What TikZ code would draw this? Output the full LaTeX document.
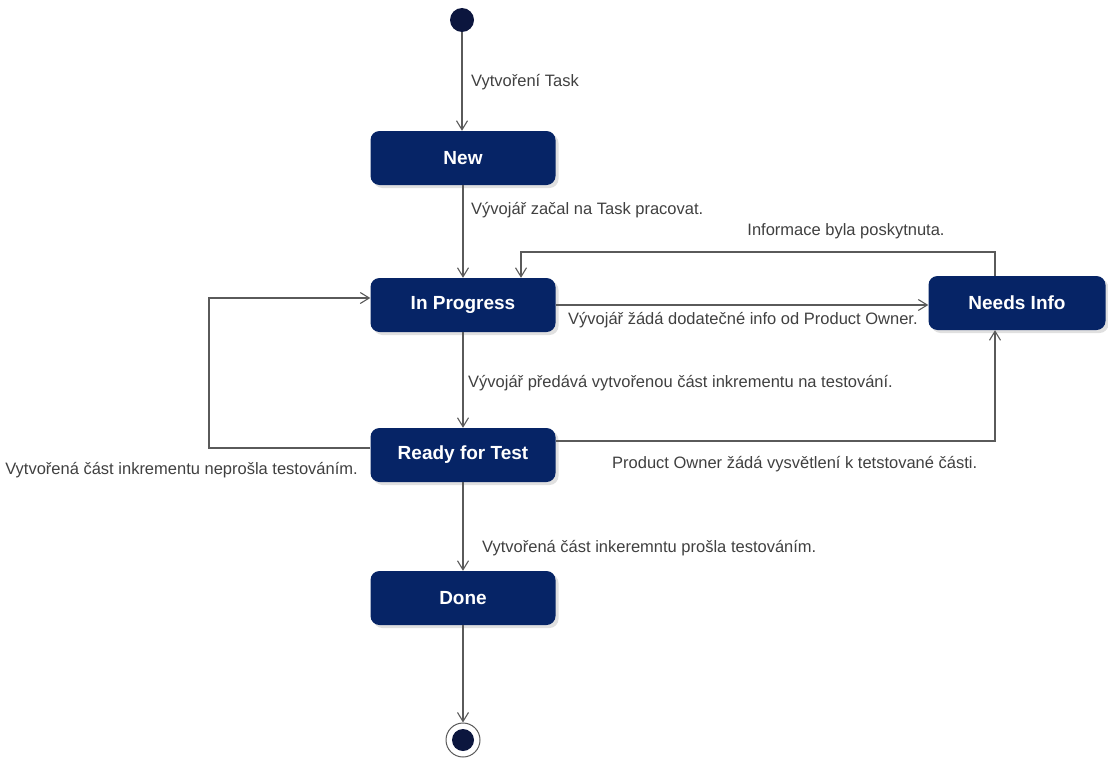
\documentclass[tikz,border=0pt]{standalone}
\usepackage{fontspec}
\setmainfont{Liberation Sans}
\usetikzlibrary{arrows.meta,shadows}
\definecolor{statefill}{RGB}{6,36,102}
\definecolor{pseudofill}{RGB}{12,22,62}
\definecolor{wire}{RGB}{90,90,90}
\definecolor{labeltext}{RGB}{64,64,64}
\begin{document}
\begin{tikzpicture}[x=1pt,y=-1pt,
  state/.style={draw=none, fill=statefill, rounded corners=9pt,
    minimum width=185pt, minimum height=54pt, text=white,
    font=\fontsize{19}{21}\selectfont\bfseries,
    drop shadow={shadow xshift=3pt, shadow yshift=-3pt, opacity=0.12, fill=black}},
  initdot/.style={circle, fill=pseudofill, minimum size=24pt, inner sep=0pt},
  finalring/.style={circle, draw=wire, fill=white, line width=1pt, minimum size=34pt, inner sep=0pt},
  finaldot/.style={circle, fill=pseudofill, minimum size=22pt, inner sep=0pt},
  trans/.style={draw=wire, line width=1.3pt, -{Straight Barb[length=9pt,width=11pt,line width=1.1pt]}},
  lbl/.style={text=labeltext, font=\fontsize{16.5}{19}\selectfont, inner sep=0pt}
]
\useasboundingbox (0,0) rectangle (1108,760);

% states
\node[initdot] (init) at (462,20) {};
\node[state] (new) at (463,158) {New};
\node[state] (prog) at (463,305) {In Progress};
\node[state, minimum width=177pt] (info) at (1017,303) {Needs Info};
\node[state] (ready) at (463,455) {Ready for Test};
\node[state] (done) at (463,598) {Done};
\node[finalring] (final) at (463,740) {};
\node[finaldot] at (final.center) {};

% routing points
\coordinate (infoUp) at (995,252);
\coordinate (progIn) at (521,252);
\coordinate (loopL) at (209,448);
\coordinate (loopT) at (209,298);
\coordinate (askR) at (995,441);

% transitions
\draw[trans] (init) -- (init |- new.north);
\draw[trans] (new) -- (new.south |- prog.north);
\draw[trans] (infoUp |- info.north) -- (infoUp) -- (progIn) -- (progIn |- prog.north);
\draw[trans] (prog.east |- 0,305) -- (info.west |- 0,305);
\draw[trans] (prog) -- (prog.south |- ready.north);
\draw[trans] (ready.west |- loopL) -- (loopL) -- (loopT) -- (prog.west |- loopT);
\draw[trans] (ready.east |- askR) -- (askR) -- (askR |- info.south);
\draw[trans] (ready) -- (ready.south |- done.north);
\draw[trans] (done) -- (final);

% transition labels
\node[lbl, anchor=west] (l1) at (471,82) {Vytvoření Task};
\node[lbl, anchor=west] (l2) at (471,210) {Vývojář začal na Task pracovat.};
\node[lbl] (l3) at (846,231) {Informace byla poskytnuta.};
\node[lbl, anchor=west] (l4) at (568,320) {Vývojář žádá dodatečné info od Product Owner.};
\node[lbl, anchor=west] (l5) at (468,383) {Vývojář předává vytvořenou část inkrementu na testování.};
\node[lbl, anchor=east] (l6) at (358,470) {Vytvořená část inkrementu neprošla testováním.};
\node[lbl, anchor=west] (l7) at (612,464) {Product Owner žádá vysvětlení k tetstované části.};
\node[lbl, anchor=west] (l8) at (482,548) {Vytvořená část inkeremntu prošla testováním.};
\end{tikzpicture}
\end{document}
